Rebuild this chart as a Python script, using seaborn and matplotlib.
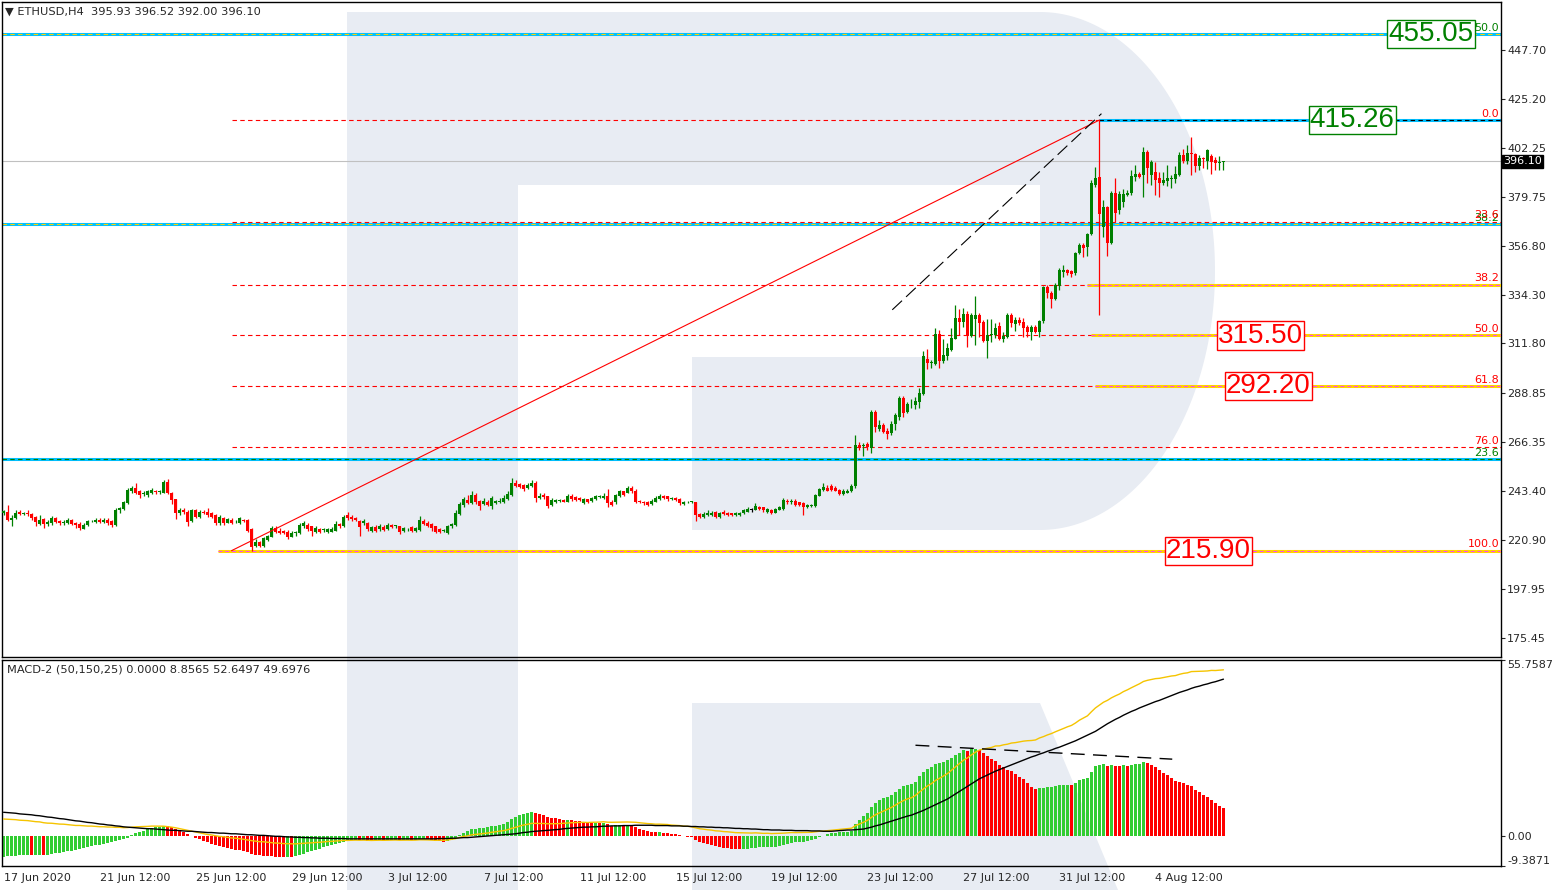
import numpy as np
import pandas as pd
import matplotlib
matplotlib.use("Agg")
import matplotlib.pyplot as plt
import matplotlib.transforms as mtransforms
from matplotlib.patches import Rectangle, Polygon
import seaborn as sns

sns.set_style("white")
plt.rcParams["font.family"] = ["DejaVu Sans"]

# ---- ETHUSD H4 candles (bar 0 = 17 Jun 2020 12:00) ----
opens = [
    233.2, 234.0, 230.2, 230.9, 233.8, 233.0, 233.4, 233.0, 231.7, 228.3,
    230.5, 228.3, 228.6, 231.2, 229.4, 228.8, 228.6, 230.0, 228.6, 228.3,
    226.0, 227.8, 229.4, 229.0, 230.2, 229.0, 230.2, 229.4, 227.8, 234.5,
    235.3, 237.9, 243.3, 244.8, 243.3, 242.3, 241.7, 242.4, 243.5, 243.0,
    242.8, 247.9, 242.5, 239.7, 233.2, 234.8, 234.0, 229.4, 234.5, 231.7,
    233.8, 234.0, 233.2, 232.4, 228.6, 230.9, 228.9, 230.2, 229.4, 228.6,
    230.2, 230.2, 225.8, 218.1, 219.7, 218.1, 220.7, 222.4, 226.3, 225.2,
    224.8, 224.7, 222.4, 224.2, 224.0, 227.1, 227.8, 227.1, 224.3, 225.8,
    225.3, 224.6, 224.7, 225.2, 228.3, 227.1, 232.5, 231.7, 231.2, 229.8,
    228.6, 228.6, 225.2, 226.8, 225.8, 226.8, 225.8, 227.8, 227.3, 227.1,
    225.2, 225.7, 226.8, 225.2, 225.5, 229.4, 228.9, 228.3, 227.1, 225.8,
    224.9, 224.0, 227.1, 227.8, 232.9, 236.9, 239.4, 237.9, 241.7, 239.1,
    237.6, 238.6, 236.6, 237.9, 238.6, 238.2, 239.7, 241.7, 247.1, 246.8,
    246.4, 244.8, 245.6, 247.4, 240.2, 241.7, 241.0, 237.1, 238.2, 239.1,
    239.4, 238.6, 241.4, 240.6, 240.2, 237.9, 239.7, 239.1, 239.7, 240.8,
    240.4, 241.0, 238.6, 238.2, 241.3, 243.3, 242.8, 244.8, 243.3, 238.9,
    238.6, 238.6, 237.6, 238.6, 239.7, 241.3, 241.0, 240.0, 240.2, 239.7,
    237.6, 238.2, 238.4, 238.2, 232.9, 231.7, 232.5, 232.5, 234.0, 231.7,
    234.0, 233.5, 233.2, 232.5, 232.5, 233.2, 234.0, 234.8, 234.8, 236.0,
    236.0, 234.0, 234.8, 233.5, 234.8, 235.1, 239.1, 238.2, 239.1, 238.2,
    237.9, 236.3, 236.6, 236.6, 241.3, 244.0, 244.8, 245.6, 244.8, 244.0,
    242.2, 242.8, 243.3, 245.6, 264.9, 264.3, 265.2, 263.3, 280.3, 272.3,
    274.2, 271.5, 270.2, 274.6, 278.0, 286.5, 280.3, 283.6, 283.4, 284.5,
    288.5, 304.5, 302.7, 302.4, 316.2, 303.9, 306.1, 308.8, 313.8, 323.5,
    321.9, 325.5, 315.3, 323.0, 325.0, 321.8, 313.0, 315.6, 315.8, 320.0,
    313.8, 315.0, 325.0, 320.9, 322.7, 321.6, 319.3, 316.9, 319.6, 316.9,
    322.0, 337.8, 335.4, 332.3, 338.2, 345.0, 345.6, 345.3, 344.3, 353.6,
    357.4, 356.7, 362.5, 385.4, 388.8, 365.9, 374.9, 358.2, 381.4, 373.6,
    377.5, 380.6, 381.4, 388.9, 390.3, 389.8, 400.6, 389.8, 391.4, 388.3,
    386.3, 386.8, 387.9, 387.8, 389.8, 399.1, 396.5, 399.9, 399.6, 394.0,
    397.9, 396.5, 398.6, 396.8, 395.2, 395.93,
]
highs = [
    234.8, 237.1, 232.5, 234.5, 234.5, 234.0, 234.5, 233.5, 232.0, 232.5,
    231.0, 230.0, 232.0, 231.7, 230.0, 230.2, 231.0, 230.5, 229.3, 229.0,
    228.5, 230.2, 230.0, 231.0, 231.0, 231.0, 231.0, 230.0, 235.5, 236.0,
    239.0, 244.8, 246.0, 247.0, 243.8, 243.5, 244.0, 245.0, 244.0, 244.0,
    248.6, 249.2, 243.0, 240.0, 235.5, 235.5, 234.5, 235.3, 235.0, 234.8,
    234.5, 235.5, 233.8, 233.0, 232.3, 231.5, 231.0, 230.8, 230.2, 231.5,
    230.6, 230.6, 226.3, 221.5, 220.3, 222.3, 223.2, 227.5, 227.5, 226.5,
    225.3, 225.5, 224.8, 225.2, 228.5, 229.4, 228.5, 227.5, 227.4, 226.3,
    226.3, 226.5, 226.8, 229.5, 228.9, 232.5, 233.8, 232.2, 231.7, 230.2,
    230.5, 229.0, 227.4, 227.8, 228.1, 227.8, 228.5, 228.3, 228.0, 227.5,
    226.8, 226.4, 227.4, 226.8, 232.0, 230.5, 229.4, 228.6, 227.5, 226.3,
    225.8, 227.8, 228.6, 234.5, 238.5, 240.8, 241.7, 243.3, 242.5, 239.5,
    240.2, 239.4, 241.0, 239.4, 240.2, 241.7, 243.3, 249.3, 248.5, 247.4,
    246.8, 247.1, 248.5, 248.0, 242.5, 242.5, 241.3, 240.2, 240.0, 239.7,
    239.9, 242.2, 242.0, 241.0, 240.6, 240.2, 240.0, 240.6, 241.7, 241.7,
    242.5, 244.3, 239.4, 242.2, 244.0, 243.7, 245.6, 245.6, 244.4, 239.4,
    239.1, 239.1, 239.7, 241.0, 242.2, 241.7, 241.3, 240.8, 240.6, 240.2,
    239.1, 239.1, 239.1, 238.6, 233.5, 234.0, 234.8, 234.4, 234.4, 234.0,
    234.8, 234.0, 233.5, 234.0, 234.0, 235.2, 236.3, 235.6, 237.9, 236.6,
    236.3, 235.6, 235.3, 235.6, 236.6, 240.2, 239.7, 239.7, 239.7, 238.6,
    238.2, 237.6, 237.6, 242.2, 245.0, 247.4, 246.4, 246.6, 245.6, 244.4,
    244.4, 244.4, 246.6, 269.5, 266.1, 265.6, 266.1, 281.0, 281.0, 276.4,
    275.0, 272.5, 276.0, 279.5, 287.3, 287.3, 284.5, 286.2, 287.0, 291.1,
    308.1, 309.2, 304.0, 318.9, 318.1, 313.8, 312.2, 318.9, 329.7, 327.7,
    328.1, 326.9, 325.8, 333.8, 325.8, 322.7, 323.0, 323.0, 321.2, 321.9,
    317.0, 325.8, 326.0, 324.0, 324.0, 323.5, 320.4, 320.4, 320.5, 322.7,
    338.5, 338.9, 336.0, 340.0, 346.6, 348.2, 346.5, 346.0, 354.3, 358.2,
    358.2, 363.1, 387.5, 393.7, 415.26, 378.3, 375.5, 382.6, 388.3, 382.6,
    383.2, 382.9, 392.2, 394.4, 391.0, 402.9, 401.4, 396.8, 395.6, 391.4,
    391.0, 394.4, 389.8, 394.0, 400.6, 401.7, 403.7, 407.6, 400.0, 399.1,
    398.3, 401.7, 399.4, 398.0, 398.6, 396.52,
]
lows = [
    232.6, 229.8, 227.1, 230.5, 232.5, 232.5, 232.0, 230.0, 227.5, 228.0,
    226.5, 227.5, 228.0, 228.5, 227.8, 228.0, 228.3, 227.8, 226.5, 225.5,
    225.8, 227.5, 229.0, 228.5, 228.8, 228.5, 228.0, 226.8, 227.5, 233.5,
    234.5, 237.5, 242.5, 242.0, 240.5, 241.0, 240.8, 242.0, 242.3, 242.0,
    242.5, 242.0, 237.5, 230.5, 232.5, 233.0, 227.2, 229.0, 231.0, 231.0,
    232.8, 231.5, 230.8, 228.0, 228.0, 228.0, 228.5, 228.3, 228.8, 228.3,
    229.0, 224.5, 215.9, 217.5, 217.6, 217.8, 220.5, 222.0, 224.0, 223.8,
    223.8, 221.5, 222.0, 222.5, 223.5, 226.5, 225.2, 222.9, 224.0, 224.2,
    224.5, 224.2, 224.4, 225.0, 226.5, 226.8, 230.2, 229.8, 229.4, 222.7,
    228.0, 225.2, 224.7, 224.7, 225.2, 225.0, 225.3, 226.2, 226.6, 223.8,
    224.7, 225.2, 224.7, 224.7, 225.2, 227.8, 226.8, 225.2, 224.0, 224.0,
    224.3, 223.5, 226.6, 227.4, 232.5, 236.3, 237.5, 237.5, 237.5, 234.7,
    237.2, 236.5, 235.2, 237.5, 237.9, 237.9, 239.4, 241.3, 245.3, 244.8,
    243.5, 244.3, 245.3, 238.6, 239.7, 240.0, 235.5, 236.6, 237.9, 238.6,
    238.2, 238.2, 239.1, 238.9, 238.9, 237.5, 237.8, 238.6, 239.4, 240.2,
    240.0, 236.3, 236.6, 237.6, 240.8, 241.0, 242.5, 242.8, 237.9, 237.9,
    237.2, 236.6, 237.1, 238.2, 239.4, 240.0, 239.1, 239.4, 238.9, 236.9,
    237.1, 237.9, 238.0, 229.4, 230.9, 231.2, 232.0, 232.0, 230.9, 231.2,
    232.3, 232.0, 232.0, 232.0, 232.0, 232.9, 233.8, 234.0, 234.5, 234.8,
    234.0, 233.5, 233.0, 233.2, 234.5, 234.8, 237.6, 237.6, 236.6, 236.6,
    232.5, 235.8, 236.3, 236.3, 241.0, 243.7, 243.3, 243.3, 243.3, 241.7,
    241.7, 242.5, 243.0, 245.0, 262.5, 259.5, 262.5, 261.3, 271.0, 271.5,
    270.5, 267.8, 269.5, 271.8, 276.4, 277.7, 279.8, 281.8, 281.4, 281.8,
    288.0, 299.9, 300.4, 301.9, 300.4, 302.7, 304.2, 308.1, 313.8, 315.8,
    319.6, 310.4, 315.0, 311.2, 315.0, 312.7, 305.0, 312.7, 314.2, 313.5,
    312.7, 314.2, 319.6, 317.8, 320.4, 315.0, 315.0, 313.5, 316.6, 315.0,
    321.5, 332.7, 328.1, 332.0, 336.6, 342.8, 343.5, 342.8, 343.5, 353.3,
    352.0, 352.3, 362.0, 384.4, 324.9, 361.3, 352.3, 357.9, 368.2, 371.8,
    375.2, 380.0, 380.6, 386.8, 388.3, 379.8, 386.0, 385.2, 380.6, 379.5,
    385.2, 384.7, 383.7, 386.3, 389.4, 395.2, 394.9, 389.8, 391.4, 392.2,
    392.9, 392.5, 390.3, 391.9, 391.9, 392.00,
]
closes = [
    234.3, 230.2, 230.9, 233.5, 232.9, 233.3, 232.9, 230.9, 229.0, 230.2,
    228.2, 229.3, 231.2, 229.0, 228.7, 229.3, 230.2, 228.2, 228.0, 226.3,
    227.8, 229.4, 229.6, 230.2, 229.2, 230.2, 228.6, 227.8, 234.8, 235.6,
    238.6, 244.0, 244.8, 242.5, 241.7, 242.7, 243.3, 243.8, 243.0, 243.3,
    247.9, 242.5, 239.4, 233.2, 234.8, 233.6, 229.0, 234.5, 231.7, 234.0,
    233.4, 232.4, 231.7, 228.6, 231.7, 228.6, 230.5, 228.9, 229.6, 230.9,
    229.4, 225.2, 217.8, 220.1, 218.1, 221.7, 222.8, 226.3, 224.7, 224.2,
    224.2, 222.4, 224.2, 224.4, 227.8, 228.6, 225.8, 225.2, 226.6, 224.7,
    225.5, 225.8, 225.8, 228.1, 227.1, 231.7, 230.9, 230.5, 230.2, 226.8,
    229.8, 225.8, 226.8, 225.2, 227.1, 225.5, 227.8, 226.8, 227.5, 224.6,
    226.3, 225.9, 225.2, 226.3, 230.2, 228.3, 227.4, 226.3, 224.7, 224.6,
    225.2, 227.4, 228.1, 233.5, 237.6, 239.7, 237.9, 241.7, 238.2, 236.6,
    238.9, 237.1, 240.2, 238.9, 238.8, 240.2, 242.2, 247.1, 245.9, 245.3,
    244.4, 246.4, 247.4, 240.2, 241.3, 240.6, 236.6, 239.4, 239.4, 239.2,
    238.6, 241.3, 239.7, 239.4, 239.4, 239.7, 238.2, 240.2, 241.0, 241.0,
    241.3, 237.9, 237.1, 241.7, 243.3, 241.7, 244.8, 243.3, 238.6, 238.6,
    237.9, 237.1, 239.1, 240.2, 241.3, 240.5, 239.7, 240.2, 239.4, 237.9,
    238.6, 238.6, 238.6, 232.5, 231.7, 232.9, 233.5, 233.5, 231.7, 233.5,
    232.9, 232.5, 232.5, 233.5, 233.5, 234.5, 235.1, 234.8, 236.6, 235.1,
    234.5, 235.1, 233.5, 235.1, 236.0, 239.4, 238.2, 239.1, 237.1, 237.1,
    236.3, 237.1, 237.1, 241.7, 244.4, 245.3, 243.7, 244.0, 243.7, 242.2,
    243.7, 243.7, 245.9, 264.9, 263.6, 264.9, 264.1, 280.3, 273.3, 274.2,
    271.0, 270.0, 274.6, 278.8, 286.5, 279.8, 283.8, 283.9, 285.4, 289.1,
    305.8, 302.7, 303.0, 316.2, 303.9, 306.5, 309.9, 314.2, 323.5, 321.9,
    325.5, 315.3, 325.0, 325.0, 321.5, 313.0, 315.8, 316.2, 318.9, 313.8,
    315.3, 325.0, 321.2, 322.7, 321.5, 318.9, 316.9, 319.6, 316.9, 322.3,
    337.8, 335.1, 332.3, 338.9, 345.6, 345.6, 344.3, 344.0, 353.9, 357.4,
    355.9, 362.5, 386.0, 388.3, 371.8, 375.2, 358.5, 381.4, 372.4, 381.1,
    381.0, 381.7, 389.4, 390.3, 389.1, 400.6, 392.9, 396.0, 387.5, 386.3,
    387.5, 388.3, 388.3, 390.3, 399.1, 396.5, 399.9, 399.4, 394.0, 397.6,
    397.1, 401.4, 395.6, 395.2, 395.9, 396.10,
]

# ---- MACD-2 (50,150,25): signal line and histogram (hist = 3*(macd - signal)) ----
macd_signal = [
    7.6, 7.5, 7.4, 7.3, 7.1, 7.0, 6.9, 6.8, 6.6, 6.5,
    6.3, 6.1, 6.0, 5.8, 5.6, 5.5, 5.3, 5.1, 4.9, 4.8,
    4.6, 4.4, 4.3, 4.1, 3.9, 3.8, 3.6, 3.5, 3.3, 3.2,
    3.0, 2.9, 2.8, 2.7, 2.6, 2.5, 2.4, 2.4, 2.3, 2.2,
    2.1, 2.0, 1.9, 1.9, 1.8, 1.7, 1.6, 1.6, 1.5, 1.4,
    1.3, 1.2, 1.2, 1.1, 1.0, 1.0, 0.9, 0.8, 0.8, 0.7,
    0.6, 0.5, 0.5, 0.4, 0.3, 0.3, 0.2, 0.1, 0.0, 0.0,
    -0.1, -0.2, -0.2, -0.3, -0.3, -0.4, -0.4, -0.5, -0.5, -0.6,
    -0.6, -0.6, -0.7, -0.7, -0.7, -0.7, -0.8, -0.8, -0.8, -0.8,
    -0.8, -0.8, -0.8, -0.8, -0.8, -0.8, -0.8, -0.8, -0.8, -0.8,
    -0.8, -0.8, -0.8, -0.8, -0.8, -0.8, -0.8, -0.8, -0.8, -0.7,
    -0.7, -0.7, -0.6, -0.6, -0.5, -0.4, -0.4, -0.3, -0.2, -0.1,
    0.0, 0.1, 0.2, 0.3, 0.4, 0.5, 0.6, 0.7, 0.8, 1.0,
    1.2, 1.3, 1.5, 1.6, 1.7, 1.8, 1.9, 2.0, 2.1, 2.2,
    2.4, 2.5, 2.6, 2.7, 2.8, 2.9, 2.9, 3.0, 3.0, 3.1,
    3.2, 3.2, 3.3, 3.3, 3.3, 3.4, 3.4, 3.4, 3.5, 3.5,
    3.5, 3.5, 3.5, 3.4, 3.4, 3.4, 3.4, 3.3, 3.3, 3.3,
    3.2, 3.2, 3.1, 3.1, 3.0, 3.0, 2.9, 2.9, 2.8, 2.8,
    2.7, 2.7, 2.6, 2.5, 2.5, 2.4, 2.4, 2.3, 2.3, 2.2,
    2.1, 2.1, 2.0, 2.0, 2.0, 1.9, 1.9, 1.9, 1.8, 1.8,
    1.8, 1.8, 1.7, 1.7, 1.7, 1.6, 1.6, 1.6, 1.7, 1.8,
    1.9, 2.0, 2.0, 2.1, 2.2, 2.3, 2.6, 2.9, 3.3, 3.6,
    4.0, 4.4, 4.8, 5.2, 5.6, 6.0, 6.4, 6.7, 7.2, 7.7,
    8.2, 8.8, 9.4, 10.0, 10.6, 11.2, 11.8, 12.6, 13.4, 14.2,
    15.0, 15.8, 16.6, 17.4, 18.2, 18.8, 19.4, 20.0, 20.6, 21.1,
    21.6, 22.1, 22.6, 23.1, 23.6, 24.1, 24.6, 25.1, 25.5, 26.0,
    26.4, 26.9, 27.3, 27.8, 28.2, 28.7, 29.2, 29.7, 30.2, 30.8,
    31.4, 32.0, 32.6, 33.2, 34.0, 34.8, 35.6, 36.3, 37.0, 37.6,
    38.3, 38.9, 39.5, 40.0, 40.6, 41.1, 41.6, 42.1, 42.6, 43.0,
    43.5, 44.0, 44.5, 45.0, 45.5, 45.9, 46.3, 46.8, 47.2, 47.5,
    47.9, 48.2, 48.6, 48.9, 49.3, 49.6976,
]
macd_hist = [
    -6.4, -6.3, -6.2, -6.1, -6.0, -5.9, -5.8, -6.0, -5.9, -5.8,
    -6.0, -5.8, -5.6, -5.4, -5.2, -5.0, -4.8, -4.6, -4.4, -4.1,
    -3.8, -3.5, -3.2, -2.9, -2.6, -2.3, -2.0, -1.7, -1.4, -1.1,
    -0.8, -0.4, 0.3, 0.9, 1.4, 1.8, 2.2, 2.5, 2.8, 3.0,
    3.3, 3.2, 3.0, 2.4, 1.9, 1.4, 0.8, 0.2, -0.4, -0.9,
    -1.4, -1.9, -2.3, -2.8, -3.1, -3.4, -3.7, -4.0, -4.2, -4.4,
    -4.6, -5.0, -5.6, -5.8, -6.0, -6.1, -6.2, -6.3, -6.4, -6.5,
    -6.6, -6.4, -6.5, -6.3, -5.9, -5.5, -5.1, -4.7, -4.3, -3.9,
    -3.5, -3.1, -2.7, -2.4, -2.1, -1.8, -1.5, -1.3, -1.2, -1.3,
    -1.2, -1.4, -1.5, -1.4, -1.3, -1.4, -1.3, -1.2, -1.1, -1.3,
    -1.2, -1.2, -1.3, -1.2, -0.9, -0.9, -1.0, -1.2, -1.4, -1.6,
    -1.7, -1.4, -1.1, -0.4, 0.4, 1.2, 1.6, 2.3, 2.4, 2.5,
    2.7, 2.8, 3.2, 3.4, 3.6, 3.9, 4.4, 5.4, 6.1, 6.7,
    7.1, 7.5, 7.8, 7.4, 7.1, 6.8, 6.2, 5.9, 5.7, 5.5,
    5.2, 5.3, 5.1, 4.9, 4.7, 4.6, 4.4, 4.3, 4.35, 4.2,
    4.25, 3.8, 3.4, 3.5, 3.6, 3.3, 3.4, 3.3, 2.8, 2.4,
    2.0, 1.6, 1.4, 1.3, 1.35, 1.2, 1.0, 0.8, 0.6, 0.3,
    0.1, -0.1, -0.3, -1.2, -1.8, -2.2, -2.5, -2.8, -3.2, -3.4,
    -3.6, -3.8, -3.9, -4.0, -4.1, -4.0, -3.9, -3.8, -3.6, -3.5,
    -3.5, -3.4, -3.4, -3.3, -3.2, -2.7, -2.4, -2.1, -1.9, -1.8,
    -1.7, -1.5, -1.3, -0.8, -0.3, 0.2, 0.6, 1.0, 1.2, 1.3,
    1.35, 1.4, 1.7, 3.8, 5.1, 6.4, 7.4, 9.3, 10.6, 11.4,
    12.0, 12.3, 13.0, 14.1, 15.1, 15.9, 16.3, 16.5, 17.2, 19.0,
    20.4, 21.4, 21.8, 23.0, 23.2, 23.6, 24.1, 24.9, 25.7, 26.5,
    27.2, 27.0, 27.5, 27.6, 27.2, 26.4, 25.3, 24.3, 23.9, 22.5,
    22.0, 21.1, 20.7, 19.6, 18.8, 18.0, 16.9, 15.6, 14.9, 15.3,
    15.4, 15.5, 15.6, 15.8, 16.1, 16.2, 16.3, 16.1, 16.9, 17.8,
    18.0, 18.3, 20.4, 22.2, 22.5, 22.8, 22.2, 22.5, 22.3, 22.2,
    22.4, 22.3, 22.5, 22.8, 22.9, 23.6, 23.2, 22.5, 21.8, 20.9,
    20.1, 19.3, 18.6, 17.5, 17.2, 16.9, 16.2, 15.9, 14.8, 14.1,
    13.0, 12.3, 11.6, 10.6, 9.7, 8.8565,
]

# ---- axis labels / levels ----
price_ticks = [447.70, 425.20, 402.25, 379.75, 356.80, 334.30, 311.80,
               288.85, 266.35, 243.40, 220.90, 197.95, 175.45]
macd_ticks = [55.7587, 0.0, -9.3871]
date_bars = [0, 24, 48, 72, 96, 120, 144, 168, 192, 216, 240, 264, 288]
date_labels = ["17 Jun 2020", "21 Jun 12:00", "25 Jun 12:00", "29 Jun 12:00",
               "3 Jul 12:00", "7 Jul 12:00", "11 Jul 12:00", "15 Jul 12:00",
               "19 Jul 12:00", "23 Jul 12:00", "27 Jul 12:00", "31 Jul 12:00",
               "4 Aug 12:00"]
fib_high, fib_low = 415.26, 215.90
fib_pcts = [0.0, 23.6, 38.2, 50.0, 61.8, 76.0, 100.0]
ext_levels = [455.05, 366.9, 258.1]
ext_names = ["50.0", "38.2", "23.6"]
box_values = ["455.05", "415.26", "315.50", "292.20", "215.90"]
last_price = 396.10

W, H = 1558, 890
GREEN, RED, CYAN, GOLD = "#008000", "#FF0000", "#00BFFF", "#FFD200"
LOGO = "#E8ECF3"

fig = plt.figure(figsize=(W / 100, H / 100), dpi=100, facecolor="white")


def rect(x0, y0, x1, y1):
    return [x0 / W, 1 - y1 / H, (x1 - x0) / W, (y1 - y0) / H]


# background watermark
bg = fig.add_axes([0, 0, 1, 1], zorder=0)
bg.set_xlim(0, W)
bg.set_ylim(H, 0)
bg.axis("off")
bg.add_patch(Rectangle((347, 12), 171, 878, color=LOGO, lw=0))
bg.add_patch(Rectangle((347, 12), 693, 173, color=LOGO, lw=0))
bg.add_patch(Rectangle((692, 357), 348, 173, color=LOGO, lw=0))
t = np.linspace(-np.pi / 2, np.pi / 2, 120)
arc = np.column_stack([1040 + 175 * np.cos(t), 271 + 259 * np.sin(t)])
bg.add_patch(Polygon(arc, closed=True, color=LOGO, lw=0))
bg.add_patch(Polygon([(692, 703), (1040, 703), (1118, 890), (692, 890)],
                     closed=True, color=LOGO, lw=0))

ax = fig.add_axes(rect(2, 2, 1501, 657), zorder=1)
ax2 = fig.add_axes(rect(2, 660, 1501, 866), zorder=1)
for a in (ax, ax2):
    a.set_facecolor("none")
    for s in a.spines.values():
        s.set_color("black")
        s.set_linewidth(1)
    a.set_xlim(-0.4, 374.4)

ax.set_ylim(166.66, 469.9)
ax2.set_ylim(-9.3871, 55.7587)

df = pd.DataFrame({"open": opens, "high": highs, "low": lows, "close": closes})
df["bar"] = np.arange(len(df))
ccol = np.where(df["close"] > df["open"], GREEN,
                np.where(df["close"] < df["open"], RED, "black"))

# current price line
ax.axhline(last_price, color="#C0C0C0", lw=0.8, zorder=1)

# extension levels (cyan)
for lvl, name, dcol in zip(ext_levels, ext_names, [GOLD, GOLD, GREEN]):
    ax.axhline(lvl, color=CYAN, lw=2.2, zorder=2)
    ax.axhline(lvl, color=dcol, lw=0.8, ls=(0, (4, 3)), zorder=2.1)
    ax.text(373.9, lvl + 0.6, name, ha="right", va="bottom", fontsize=8,
            color=GREEN, zorder=3)

# fibonacci retracement
fib_prices = [fib_high - p / 100 * (fib_high - fib_low) for p in fib_pcts]
for p, pr in zip(fib_pcts, fib_prices):
    x_end = 274 if p == 0.0 else 374.4
    ax.hlines(pr, 57, x_end, colors=RED, lw=0.8, linestyles=(0, (4, 3)), zorder=3)
    ax.text(373.9, pr + 0.6, f"{p:.1f}", ha="right", va="bottom", fontsize=8,
            color=RED, zorder=3)
ax.hlines(fib_high, 274, 374.4, colors=CYAN, lw=2.2, zorder=2)
ax.hlines(fib_high, 274, 374.4, colors="black", lw=0.8, linestyles=(0, (4, 3)), zorder=2.1)
for pr, x0 in zip([fib_prices[2], fib_prices[3], fib_prices[4], fib_prices[6]],
                  [271, 272, 273, 53.7]):
    ax.hlines(pr, x0, 374.4, colors=GOLD, lw=2.2, zorder=3.1)
    ax.hlines(pr, x0, 374.4, colors="#FF40FF", lw=0.7, linestyles=(0, (4, 3)), zorder=3.2)

# candles
ax.vlines(df["bar"], df["low"], df["high"], colors=ccol, lw=0.9, zorder=4)
body = np.maximum((df["close"] - df["open"]).abs(), 0.4)
ax.bar(df["bar"], body, bottom=np.minimum(df["open"], df["close"]), width=0.78,
       color=ccol, lw=0, zorder=4)

# trend lines
ax.plot([57, 274], [fib_low, fib_high], color=RED, lw=0.8, zorder=5)
ax.plot([222.2, 274.5], [327.4, 418.2], color="black", lw=0.8,
        dashes=(12, 5), zorder=5)

# price boxes
box_x = [356.9, 337.2, 314.2, 316.2, 301.2]
box_c = [GREEN, GREEN, RED, RED, RED]
for xv, txt, col in zip(box_x, box_values, box_c):
    ax.text(xv, float(txt), txt, ha="center", va="center", fontsize=20,
            family=["Liberation Sans", "DejaVu Sans"], color=col, zorder=6,
            bbox=dict(boxstyle="square,pad=0.04", facecolor="white",
                      edgecolor=col, lw=1))

# axes ticks
ax.yaxis.tick_right()
ax.set_yticks(price_ticks)
ax.set_yticklabels([f"{v:.2f}" for v in price_ticks])
ax.set_xticks([])
ax.tick_params(axis="y", length=3, width=0.8, labelsize=8, pad=1.5, direction="out")
trans = mtransforms.blended_transform_factory(ax.transAxes, ax.transData)
ax.text(1.0015, last_price, f"{last_price:.2f}", transform=trans, ha="left",
        va="center", fontsize=8, color="white", zorder=7, clip_on=False,
        bbox=dict(boxstyle="square,pad=0.12", facecolor="black", edgecolor="black"))

# MACD panel
hcol = ["#32CD32" if (i == 0 or macd_hist[i] >= macd_hist[i - 1]) else RED
        for i in range(len(macd_hist))]
ax2.bar(df["bar"], macd_hist, width=0.75, color=hcol, lw=0, zorder=2)
mdf = pd.DataFrame({"bar": df["bar"], "signal": macd_signal, "histo": macd_hist})
mdf["macd"] = mdf["signal"] + mdf["histo"] / 3
sns.lineplot(data=mdf, x="bar", y="macd", ax=ax2, color="#F5C400", lw=1, zorder=3)
sns.lineplot(data=mdf, x="bar", y="signal", ax=ax2, color="black", lw=1, zorder=3)
ax2.plot([228, 292.2], [28.8, 24.4], color="black", lw=1, dashes=(10, 6), zorder=4)
ax2.set_xlabel("")
ax2.set_ylabel("")
ax2.yaxis.tick_right()
ax2.set_yticks(macd_ticks)
ax2.set_yticklabels(["55.7587", "0.00", "-9.3871"])
labs = ax2.get_yticklabels()
labs[0].set_va("top")
labs[2].set_va("bottom")
ax2.tick_params(axis="y", length=3, width=0.8, labelsize=8, pad=1.5)
ax2.set_xticks(date_bars)
ax2.set_xticklabels(date_labels, ha="left")
ax2.tick_params(axis="x", length=4, width=0.8, labelsize=8, pad=1)

fig.text(5 / W, 1 - 12 / H, "\u25bc ETHUSD,H4  395.93 396.52 392.00 396.10",
         fontsize=8.2, va="center", ha="left")
fig.text(7 / W, 1 - 670 / H, "MACD-2 (50,150,25) 0.0000 8.8565 52.6497 49.6976",
         fontsize=8.2, va="center", ha="left")

fig.savefig("out.png", dpi=100, facecolor="white")
